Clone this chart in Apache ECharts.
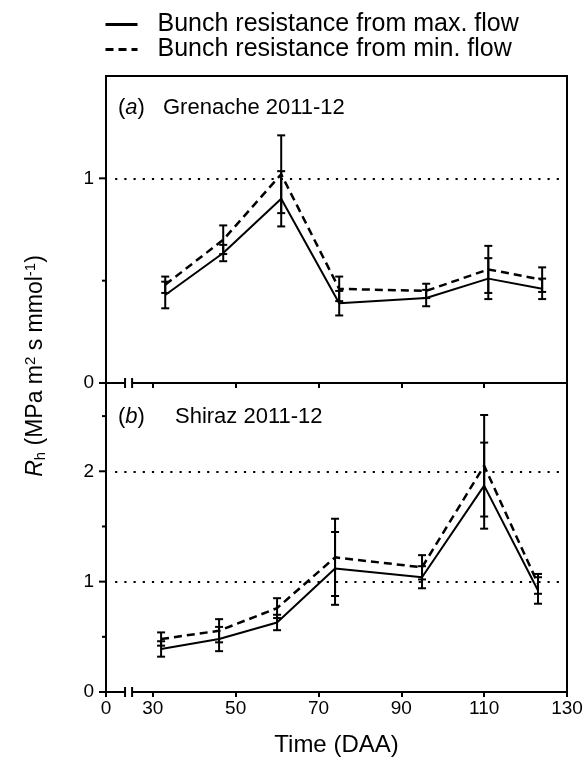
<!DOCTYPE html>
<html>
<head>
<meta charset="utf-8">
<script src="https://cdn.jsdelivr.net/npm/echarts@6/dist/echarts.min.js"></script>
<style>html,body{margin:0;padding:0;background:#fff}#c{width:587px;height:764px}</style>
</head>
<body>
<div id="c"></div>
<script>
// ---- data ----
const seriesNames = ['Bunch resistance from max. flow', 'Bunch resistance from min. flow'];
// (a) Grenache 2011-12
const daaA = [33, 47, 61, 75, 96, 111, 124];
const maxFlowA = [0.43, 0.635, 0.90, 0.39, 0.415, 0.51, 0.46];
const maxFlowErrA = [0.065, 0.04, 0.135, 0.06, 0.04, 0.10, 0.05];
const minFlowA = [0.48, 0.70, 1.02, 0.46, 0.45, 0.555, 0.505];
const minFlowErrA = [0.04, 0.07, 0.19, 0.06, 0.035, 0.115, 0.06];
// (b) Shiraz 2011-12
const daaB = [32, 46, 60, 74, 95, 110, 123];
const maxFlowB = [0.39, 0.48, 0.63, 1.12, 1.04, 1.87, 0.92];
const maxFlowErrB = [0.07, 0.11, 0.07, 0.33, 0.10, 0.39, 0.12];
const minFlowB = [0.48, 0.555, 0.76, 1.22, 1.13, 2.05, 0.98];
const minFlowErrB = [0.06, 0.105, 0.09, 0.35, 0.11, 0.46, 0.09];
// axes
const xTicks = [0, 30, 50, 70, 90, 110, 130];
const xBreakStart = 4.6, xBreakEnd = 25, xBreakGap = 1.7;
const yMajorA = [0, 1], yMinorA = [0.5];
const yMajorB = [0, 1, 2], yMinorB = [0.5, 1.5, 2.5];
const yMaxA = 1.5, yMaxB = 2.8;
const refLinesA = [1], refLinesB = [1, 2];
const refStart = 2.2, refEnd = 128.3;

const FONT = 'Liberation Sans, Arial, sans-serif';
const chart = echarts.init(document.getElementById('c'));

function xAxis(gi, showLabels) {
  return {
    type: 'value', gridIndex: gi, min: 0, max: 130,
    breaks: [{ start: xBreakStart, end: xBreakEnd, gap: xBreakGap }],
    breakArea: { show: false },
    axisLine: { show: true, onZero: false, lineStyle: { color: '#000', width: 2 } },
    axisTick: { show: true, customValues: xTicks, length: 5, lineStyle: { color: '#000', width: 2 } },
    axisLabel: { show: showLabels, customValues: xTicks, color: '#000', fontSize: 19, fontFamily: FONT, margin: 7 },
    splitLine: { show: false },
    name: showLabels ? 'Time (DAA)' : '', nameLocation: 'middle', nameGap: 41,
    nameTextStyle: { color: '#000', fontSize: 24, fontFamily: FONT }
  };
}
function yAxis(gi, max, labels) {
  return {
    type: 'value', gridIndex: gi, min: 0, max: max, position: 'left',
    axisLine: { show: true, onZero: false, lineStyle: { color: '#000', width: 2 } },
    axisTick: { show: false },
    axisLabel: { show: true, customValues: labels, color: '#000', fontSize: 19, fontFamily: FONT, margin: 12 },
    splitLine: { show: false }
  };
}
function errRender(params, api) {
  const x = api.value(0), m = api.value(1), e = api.value(2);
  const t = api.coord([x, m + e]), b = api.coord([x, m - e]);
  const w = 4, st = { stroke: '#000', lineWidth: 2 };
  return { type: 'group', children: [
    { type: 'line', shape: { x1: t[0], y1: t[1], x2: b[0], y2: b[1] }, style: st },
    { type: 'line', shape: { x1: t[0] - w, y1: t[1], x2: t[0] + w, y2: t[1] }, style: st },
    { type: 'line', shape: { x1: b[0] - w, y1: b[1], x2: b[0] + w, y2: b[1] }, style: st }
  ]};
}
function breakRender(params, api) {
  const p1 = api.coord([api.value(0), api.value(1)]);
  const p2 = api.coord([api.value(2), api.value(1)]);
  const st = { stroke: '#000', lineWidth: 2 };
  return { type: 'group', children: [
    { type: 'rect', shape: { x: p1[0], y: p1[1] - 3, width: p2[0] - p1[0], height: 6 }, style: { fill: '#fff' } },
    { type: 'line', shape: { x1: p1[0], y1: p1[1] - 5, x2: p1[0], y2: p1[1] + 5 }, style: st },
    { type: 'line', shape: { x1: p2[0], y1: p2[1] - 5, x2: p2[0], y2: p2[1] + 5 }, style: st }
  ]};
}
// y-axis tick marks placed through the axis scale
function yTickRender(params, api) {
  const p = api.coord([0, api.value(1)]);
  const len = api.value(2);
  return { type: 'line', shape: { x1: p[0] - len, y1: p[1], x2: p[0], y2: p[1] },
    style: { stroke: '#000', lineWidth: 2 } };
}
function yTickSeries(xi, yi, major, minor) {
  const data = major.map(v => [0, v, 7]).concat(minor.map(v => [0, v, 4]));
  return { type: 'custom', xAxisIndex: xi, yAxisIndex: yi, renderItem: yTickRender, clip: false,
    encode: { x: 0, y: 1 }, data: data, z: 10, silent: true };
}
function lineSeries(name, xi, yi, xs, ys, dashed, refs) {
  const s = {
    name: name, type: 'line', xAxisIndex: xi, yAxisIndex: yi,
    data: xs.map((x, i) => [x, ys[i]]), symbol: 'none', showSymbol: false,
    lineStyle: { color: '#000', width: dashed ? 2.5 : 2, type: dashed ? [8, 5] : 'solid' },
    itemStyle: { color: '#000' }, z: 3
  };
  if (refs) {
    s.markLine = {
      silent: true, symbol: 'none', label: { show: false },
      lineStyle: { color: '#000', type: [2.2, 7], width: 2.2 },
      data: refs.map(v => [{ coord: [refStart, v] }, { coord: [refEnd, v] }])
    };
  }
  return s;
}
function errSeries(xi, yi, xs, ys, es) {
  return { type: 'custom', xAxisIndex: xi, yAxisIndex: yi, renderItem: errRender,
    encode: { x: 0, y: 1 }, data: xs.map((x, i) => [x, ys[i], es[i]]), z: 4, silent: true };
}
function breakSeries(xi, yi) {
  return { type: 'custom', xAxisIndex: xi, yAxisIndex: yi, renderItem: breakRender, clip: false,
    encode: { x: 0, y: 1 }, data: [[xBreakStart, 0, xBreakEnd]], z: 10, silent: true };
}

const option = {
  animation: false,
  backgroundColor: '#fff',
  legend: {
    orient: 'vertical', left: 104, top: 12, padding: 0, itemWidth: 32, itemHeight: 14, itemGap: 0,
    data: seriesNames,
    lineStyle: { width: 3 },
    itemStyle: { opacity: 0 },
    textStyle: { color: '#000', fontSize: 25, lineHeight: 25, fontFamily: FONT, padding: [0, 0, 0, 15] }
  },
  grid: [
    { left: 106, right: 20, top: 76, height: 307, show: true, borderColor: '#000', borderWidth: 2 },
    { left: 106, right: 20, top: 383, height: 309, show: true, borderColor: '#000', borderWidth: 2 }
  ],
  xAxis: [xAxis(0, false), xAxis(1, true)],
  yAxis: [yAxis(0, yMaxA, yMajorA), yAxis(1, yMaxB, yMajorB)],
  graphic: [
    { type: 'text', x: 118, y: 108, style: { text: '{n|(}{i|a}{n|)}', align: 'left', verticalAlign: 'middle',
      rich: { n: { fontSize: 22, fontFamily: FONT, fill: '#000' }, i: { fontSize: 22, fontFamily: FONT, fontStyle: 'italic', fill: '#000' } } } },
    { type: 'text', x: 163, y: 108, style: { text: 'Grenache 2011-12', align: 'left', verticalAlign: 'middle', fontSize: 22, fontFamily: FONT, fill: '#000' } },
    { type: 'text', x: 118, y: 417, style: { text: '{n|(}{i|b}{n|)}', align: 'left', verticalAlign: 'middle',
      rich: { n: { fontSize: 22, fontFamily: FONT, fill: '#000' }, i: { fontSize: 22, fontFamily: FONT, fontStyle: 'italic', fill: '#000' } } } },
    { type: 'text', x: 175, y: 417, style: { text: 'Shiraz 2011-12', align: 'left', verticalAlign: 'middle', fontSize: 22, fontFamily: FONT, fill: '#000' } },
    { type: 'text', x: 36, y: 366, rotation: Math.PI / 2,
      style: { text: '{i|R}{sub|h}{n| (MPa m}{sup|2}{n| s mmol}{sup|-1}{n|)}', align: 'center', verticalAlign: 'middle',
        rich: {
          n: { fontSize: 23, fontFamily: FONT, fill: '#000' },
          i: { fontSize: 23, fontFamily: FONT, fontStyle: 'italic', fill: '#000' },
          sub: { fontSize: 15, fontFamily: FONT, fill: '#000', padding: [10, 0, 0, 0] },
          sup: { fontSize: 15, fontFamily: FONT, fill: '#000', padding: [0, 0, 10, 0] }
        } } }
  ],
  series: [
    lineSeries(seriesNames[0], 0, 0, daaA, maxFlowA, false, refLinesA),
    lineSeries(seriesNames[1], 0, 0, daaA, minFlowA, true, null),
    errSeries(0, 0, daaA, maxFlowA, maxFlowErrA),
    errSeries(0, 0, daaA, minFlowA, minFlowErrA),
    lineSeries(seriesNames[0], 1, 1, daaB, maxFlowB, false, refLinesB),
    lineSeries(seriesNames[1], 1, 1, daaB, minFlowB, true, null),
    errSeries(1, 1, daaB, maxFlowB, maxFlowErrB),
    errSeries(1, 1, daaB, minFlowB, minFlowErrB),
    breakSeries(0, 0),
    breakSeries(1, 1),
    yTickSeries(0, 0, yMajorA, yMinorA),
    yTickSeries(1, 1, yMajorB, yMinorB)
  ]
};
chart.setOption(option);
</script>
</body>
</html>
